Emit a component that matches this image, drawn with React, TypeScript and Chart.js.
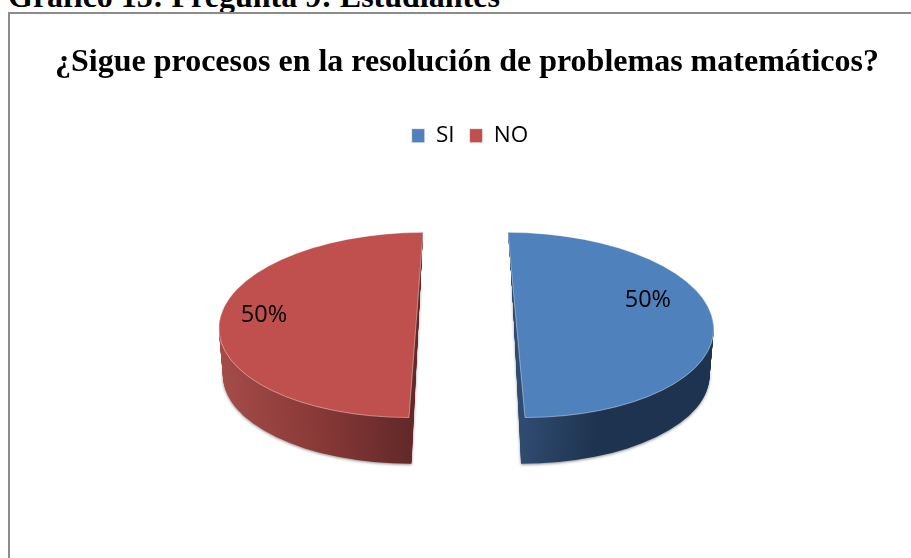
import React, { useEffect, useRef } from "react";
import { Chart, registerables } from "chart.js";

Chart.register(...registerables);

const categories = ["SI", "NO"];
const answers = [50, 50];
const topColors = ["#4f81bd", "#c0504d"];
const chartTitle = "¿Sigue procesos en la resolución de problemas matemáticos?";
const heading = "Gráfico 15: Pregunta 9: Estudiantes";

// Projection of the flat pie into a tilted, exploded disc.
const TILT = 0.47;
const DEPTH = 48;
const EXPLODE = [49.5, 51];
const BOTTOM_SCALE = 0.98;
const RIM_SHEAR = [
  { top: 0.092, bottom: 0.05 },
  { top: -0.076, bottom: -0.05 },
];
// Wall shading, from the slice apex towards its outer edge.
const wallStops = [
  [[0, "#2f4b70"], [0.38, "#1e334f"], [1, "#1e334f"]],
  [[0, "#622928"], [0.5, "#8a3a38"], [1, "#a54c49"]],
];
// Label anchors as fractions of the radius from the slice apex.
const labelAnchors = [
  { x: 0.667, y: -0.125 },
  { x: -0.772, y: -0.048 },
];

const LABEL_FONT = '23.5px "Open Sans"';

function project(ctx: CanvasRenderingContext2D, arc: any, ax: number, drop: number, shear: number, scale: number) {
  ctx.translate(ax, arc.y + drop);
  ctx.transform(scale, 0, shear * TILT * scale, TILT * scale, 0, 0);
  ctx.translate(-arc.x, -arc.y);
}

const apexX = (arc: any, i: number) =>
  arc.x + (Math.cos((arc.startAngle + arc.endAngle) / 2) >= 0 ? 1 : -1) * EXPLODE[i];

const tiltedPie = {
  id: "tiltedPie",
  afterLayout(chart: any) {
    chart.legend.left += 3;
    chart.legend.right += 3;
  },
  beforeDatasetDraw(chart: any, args: any) {
    const { ctx } = chart;
    args.meta.data.forEach((arc: any, i: number) => {
      const ax = apexX(arc, i);
      const dir = ax >= arc.x ? 1 : -1;
      const original = arc.options;
      const shear = RIM_SHEAR[i];

      // Side wall: stacked copies of the slice, deepest first.
      const grad = ctx.createLinearGradient(arc.x, 0, arc.x + dir * arc.outerRadius, 0);
      wallStops[i].forEach(([p, c]: any) => grad.addColorStop(p, c));
      arc.options = { ...original, backgroundColor: grad, borderWidth: 0 };
      for (let d = DEPTH; d >= 1; d--) {
        const f = d / DEPTH;
        ctx.save();
        if (d === DEPTH) {
          ctx.shadowColor = "rgba(0,0,0,0.45)";
          ctx.shadowBlur = 3;
          ctx.shadowOffsetY = 1;
        }
        project(ctx, arc, ax, d, shear.top + (shear.bottom - shear.top) * f, 1 + (BOTTOM_SCALE - 1) * f);
        arc.draw(ctx);
        ctx.restore();
      }
      arc.options = original;

      // Top face.
      ctx.save();
      project(ctx, arc, ax, 0, shear.top, 1);
      arc.draw(ctx);
      ctx.restore();
    });
    return false;
  },
  afterDatasetsDraw(chart: any) {
    const { ctx } = chart;
    const total = answers.reduce((a, b) => a + b, 0);
    chart.getDatasetMeta(0).data.forEach((arc: any, i: number) => {
      const r = arc.outerRadius;
      ctx.save();
      ctx.font = LABEL_FONT;
      ctx.fillStyle = "#000";
      ctx.textAlign = "center";
      ctx.textBaseline = "middle";
      ctx.fillText(
        `${Math.round((answers[i] / total) * 100)}%`,
        apexX(arc, i) + labelAnchors[i].x * r,
        arc.y + labelAnchors[i].y * r
      );
      ctx.restore();
    });
  },
};

export default function App() {
  const ref = useRef<HTMLCanvasElement>(null);
  useEffect(() => {
    const chart = new Chart(ref.current!, {
      type: "pie",
      data: {
        labels: categories,
        datasets: [
          {
            data: answers,
            backgroundColor: topColors,
            borderColor: "rgba(255,255,255,0.55)",
            borderWidth: 1,
            radius: 197,
          },
        ],
      },
      options: {
        responsive: false,
        animation: false,
        layout: { padding: { bottom: 67 } },
        plugins: {
          title: {
            display: true,
            text: chartTitle,
            color: "#000",
            font: { family: '"Liberation Serif"', size: 32, weight: "bold" },
            padding: { top: 30, bottom: 27 },
          },
          legend: {
            position: "top",
            labels: {
              color: "#000",
              boxWidth: 13,
              boxHeight: 14,
              padding: 15,
              font: { family: '"Open Sans"', size: 22.5 },
            },
          },
          tooltip: { enabled: false },
        },
      },
      plugins: [tiltedPie],
    } as any);
    return () => chart.destroy();
  }, []);

  return (
    <div style={{ position: "fixed", inset: 0, overflow: "hidden", background: "#fff" }}>
      <div
        style={{
          position: "absolute",
          left: 8,
          top: -22,
          whiteSpace: "nowrap",
          font: 'bold 32px "Liberation Serif"',
          color: "#000",
          lineHeight: "36px",
        }}
      >
        {heading}
      </div>
      <div
        style={{
          position: "absolute",
          left: 8,
          top: 12,
          width: 914,
          height: 546,
          borderLeft: "2px solid #8c8c8c",
          borderTop: "2px solid #8c8c8c",
        }}
      >
        <canvas ref={ref} width={914} height={546} style={{ display: "block" }} />
      </div>
    </div>
  );
}
